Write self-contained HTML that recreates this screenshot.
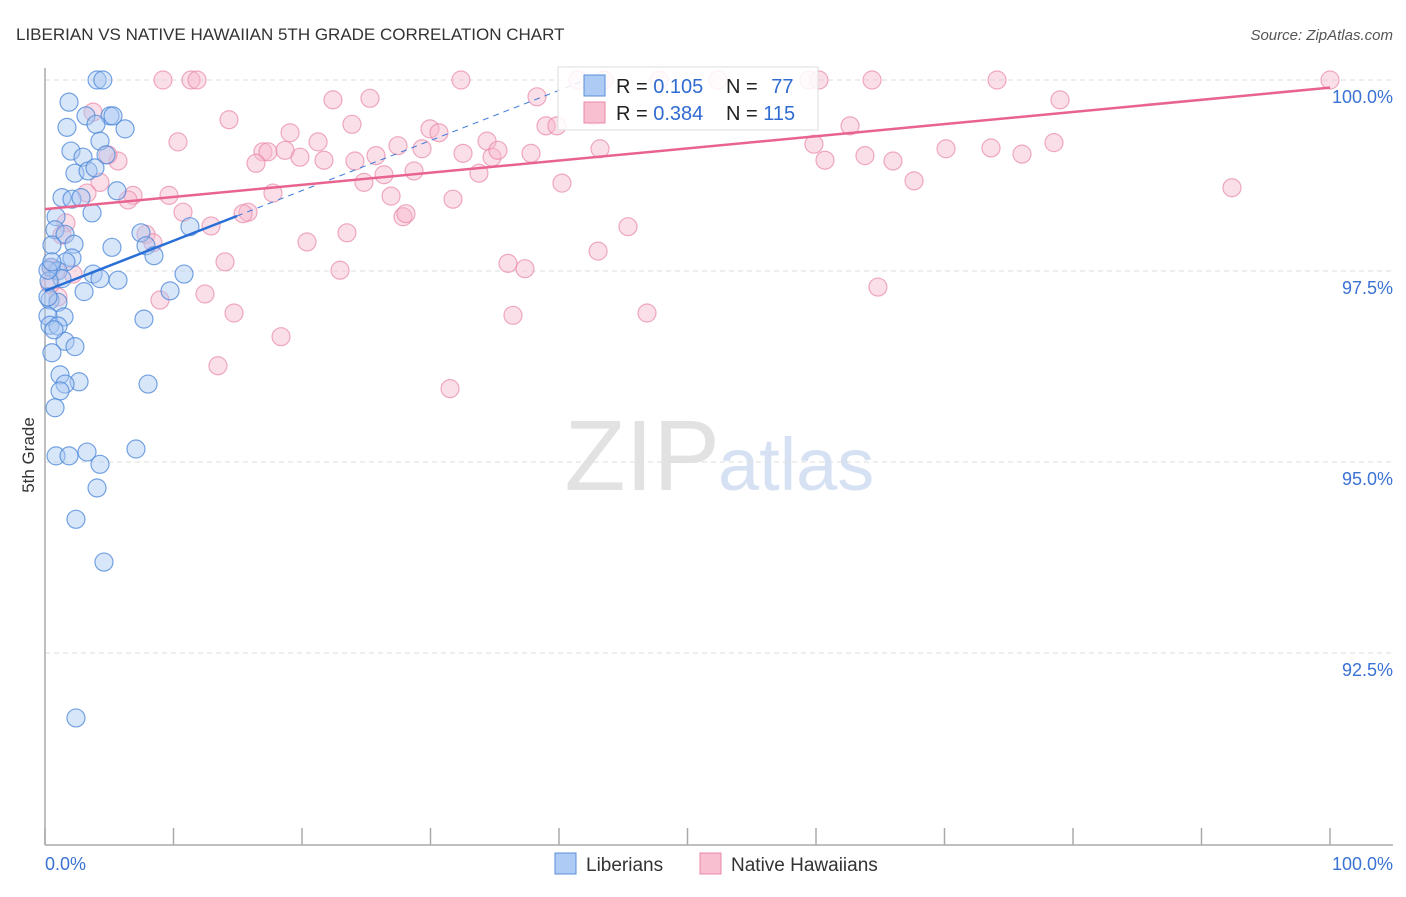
<!DOCTYPE html>
<html><head><meta charset="utf-8"><style>
body{margin:0;background:#fff;font-family:"Liberation Sans",sans-serif;}
svg text{font-family:"Liberation Sans",sans-serif;}
</style></head><body>
<svg id="chart" width="1406" height="892" viewBox="0 0 1406 892">
<text x="16" y="40" font-size="17" fill="#333">LIBERIAN VS NATIVE HAWAIIAN 5TH GRADE CORRELATION CHART</text>
<text x="1393" y="40" font-size="15" fill="#555" text-anchor="end" font-style="italic">Source: ZipAtlas.com</text>
<text x="720" y="490" font-size="100" fill="#e2e2e2" text-anchor="end" font-family="Liberation Serif">ZIP</text>
<text x="718" y="490" font-size="74" fill="#d6e2f4">atlas</text>
<g id="grid"></g>
<g id="axes"></g>
<g id="points"></g>
<g id="trends"></g>
<text x="34" y="455" font-size="17" fill="#333" text-anchor="middle" transform="rotate(-90 34 455)">5th Grade</text>
<g>
<rect x="558" y="67" width="260" height="63" fill="#fff" fill-opacity="0.85" stroke="#ddd"/>
<rect x="584" y="75" width="21" height="21" fill="#aecbf5" stroke="#5b8fd9"/>
<rect x="584" y="102" width="21" height="21" fill="#f8bfd0" stroke="#e88aa8"/>
<text x="616" y="93" font-size="20" fill="#222">R = <tspan fill="#2f6bd0">0.105</tspan></text>
<text x="726" y="93" font-size="20" fill="#222">N = <tspan fill="#2f6bd0" dx="8">77</tspan></text>
<text x="616" y="120" font-size="20" fill="#222">R = <tspan fill="#2f6bd0">0.384</tspan></text>
<text x="726" y="120" font-size="20" fill="#222">N = <tspan fill="#2f6bd0">115</tspan></text>
</g>
<g>
<rect x="555" y="853" width="21" height="21" fill="#aecbf5" stroke="#5b8fd9"/>
<text x="586" y="871" font-size="19" fill="#333">Liberians</text>
<rect x="700" y="853" width="21" height="21" fill="#f8bfd0" stroke="#e88aa8"/>
<text x="731" y="871" font-size="19" fill="#333">Native Hawaiians</text>
</g>
</svg>
<script>
const yTicks=[100,97.5,95,92.5];
const yTickLabels=["100.0%","97.5%","95.0%","92.5%"];
const blueX=[4.05,4.5,1.87,3.19,5.06,5.29,1.71,3.97,6.23,2.02,4.28,2.96,4.75,2.33,3.35,3.89,5.6,1.32,2.1,2.8,3.66,0.86,0.78,1.56,7.47,11.28,0.54,2.26,5.21,7.86,8.48,2.1,1.63,0.47,1.01,3.74,4.28,5.68,10.82,1.32,0.31,3.04,9.73,0.39,1.01,1.48,0.23,0.39,1.01,7.7,1.56,2.33,0.54,1.17,2.65,1.56,8.02,1.17,0.78,7.08,0.86,1.87,3.27,4.28,4.05,2.41,4.59,2.41,0.23,0.54,0.23,0.7];
const blueY=[100,100,99.71,99.53,99.53,99.53,99.38,99.42,99.36,99.07,99.2,98.99,99.02,98.78,98.81,98.85,98.55,98.46,98.44,98.46,98.26,98.21,98.04,97.98,98,98.08,97.84,97.85,97.81,97.83,97.7,97.67,97.62,97.55,97.5,97.46,97.4,97.38,97.46,97.4,97.37,97.23,97.24,97.12,97.09,96.9,96.91,96.79,96.78,96.87,96.58,96.51,96.43,96.14,96.05,96.02,96.02,95.93,95.71,95.17,95.08,95.08,95.13,94.97,94.66,94.25,93.69,91.65,97.51,97.62,97.16,96.73];
const pinkX=[9.18,11.36,11.83,32.37,41.48,43.5,47.78,52.37,59.46,60.23,64.36,74.09,100,3.74,22.41,25.29,38.29,78.99,14.32,23.89,29.96,30.66,38.99,39.84,42.72,62.65,19.07,10.35,21.25,34.4,16.96,17.35,16.42,19.84,18.68,21.71,24.12,25.76,27.47,29.34,32.53,34.79,35.25,37.82,43.19,59.84,63.81,60.7,65.99,70.12,73.62,76.03,78.52,5.68,4.9,4.28,24.82,26.38,28.72,33.77,40.23,67.63,92.37,3.27,6.85,6.46,9.65,17.74,26.93,31.75,15.8,15.41,10.74,27.86,28.09,12.92,1.63,1.32,7.86,8.4,23.5,20.39,45.37,43.04,14.01,36.03,37.35,22.96,2.18,0.47,1.01,8.95,12.45,64.82,14.71,36.42,46.85,18.37,13.46,31.52,0.86,0.39];
const pinkY=[100,100,100,100,100,100,100,100,100,100,100,100,100,99.58,99.74,99.76,99.78,99.74,99.48,99.42,99.36,99.31,99.4,99.4,99.53,99.4,99.31,99.19,99.19,99.2,99.06,99.06,98.91,98.99,99.08,98.95,98.94,99.01,99.14,99.1,99.04,98.99,99.08,99.04,99.1,99.16,99.01,98.95,98.94,99.1,99.11,99.03,99.18,98.94,99.02,98.66,98.66,98.76,98.81,98.78,98.65,98.68,98.59,98.52,98.49,98.43,98.49,98.52,98.48,98.44,98.27,98.25,98.27,98.21,98.25,98.09,98.13,97.97,97.98,97.87,98,97.88,98.08,97.76,97.62,97.6,97.53,97.51,97.46,97.54,97.16,97.12,97.2,97.29,96.95,96.92,96.95,96.64,96.26,95.96,97.51,97.32];
const blueTrend=[97.24,0.0656,14.94,42.4]; // intercept, slope, solid end, dashed end
const pinkTrend=[98.31,99.9];

const NS="http://www.w3.org/2000/svg";
const X0=45,X1=1330,YT=80,PX_PER=76.4;
function sx(v){return X0+(X1-X0)*v/100;}
function sy(v){return YT+(100-v)*PX_PER;}
function mk(tag,attrs,parent){const e=document.createElementNS(NS,tag);for(const k in attrs)e.setAttribute(k,attrs[k]);parent.appendChild(e);return e;}
const grid=document.getElementById('grid'),axes=document.getElementById('axes'),pts=document.getElementById('points'),tr=document.getElementById('trends');
yTicks.forEach((t,i)=>{
 const l=mk('line',{x1:X0,x2:1393,y1:sy(t),y2:sy(t),stroke:'#ddd','stroke-dasharray':'5,4'},grid);
 
 
 const tx=mk('text',{x:1393,y:sy(t)+23,'font-size':18,fill:'#3b72d4','text-anchor':'end'},grid);
 tx.textContent=yTickLabels[i];
 
 
});
let a=mk('line',{x1:X0,x2:X0,y1:68,y2:845,stroke:'#aaa','stroke-width':1.5},axes);


a=mk('line',{x1:X0,x2:1393,y1:845,y2:845,stroke:'#aaa','stroke-width':1.5},axes);


for(let i=0;i<=10;i++){
 const t=mk('line',{x1:sx(i*10),x2:sx(i*10),y1:828,y2:845,stroke:'#aaa','stroke-width':1.5},axes);
 
 
}
let xl=mk('text',{x:45,y:870,'font-size':18,fill:'#3b72d4'},axes);xl.textContent='0.0%';


xl=mk('text',{x:1393,y:870,'font-size':18,fill:'#3b72d4','text-anchor':'end'},axes);xl.textContent='100.0%';


pinkX.forEach((x,i)=>{
 const c=mk('circle',{cx:sx(x),cy:sy(pinkY[i]),r:9,fill:'#f7b9cc','fill-opacity':0.45,stroke:'#e888a6','stroke-opacity':0.7,'stroke-width':1.2},pts);
 
 
});
blueX.forEach((x,i)=>{
 const c=mk('circle',{cx:sx(x),cy:sy(blueY[i]),r:9,fill:'#a9c8f2','fill-opacity':0.45,stroke:'#4a86d8','stroke-opacity':0.75,'stroke-width':1.2},pts);
 
 
});
const bf=v=>blueTrend[0]+blueTrend[1]*v;
let l=mk('line',{x1:sx(blueTrend[2]),y1:sy(bf(blueTrend[2])),x2:sx(blueTrend[3]),y2:sy(bf(blueTrend[3])),stroke:'#3b7ad8','stroke-width':1,'stroke-dasharray':'6,5'},tr);


l=mk('line',{x1:sx(0),y1:sy(bf(0)),x2:sx(blueTrend[2]),y2:sy(bf(blueTrend[2])),stroke:'#2a6fd6','stroke-width':2.5},tr);


l=mk('line',{x1:sx(0),y1:sy(pinkTrend[0]),x2:sx(100),y2:sy(pinkTrend[1]),stroke:'#e8648f','stroke-width':2.5},tr);


</script>
</body></html>
